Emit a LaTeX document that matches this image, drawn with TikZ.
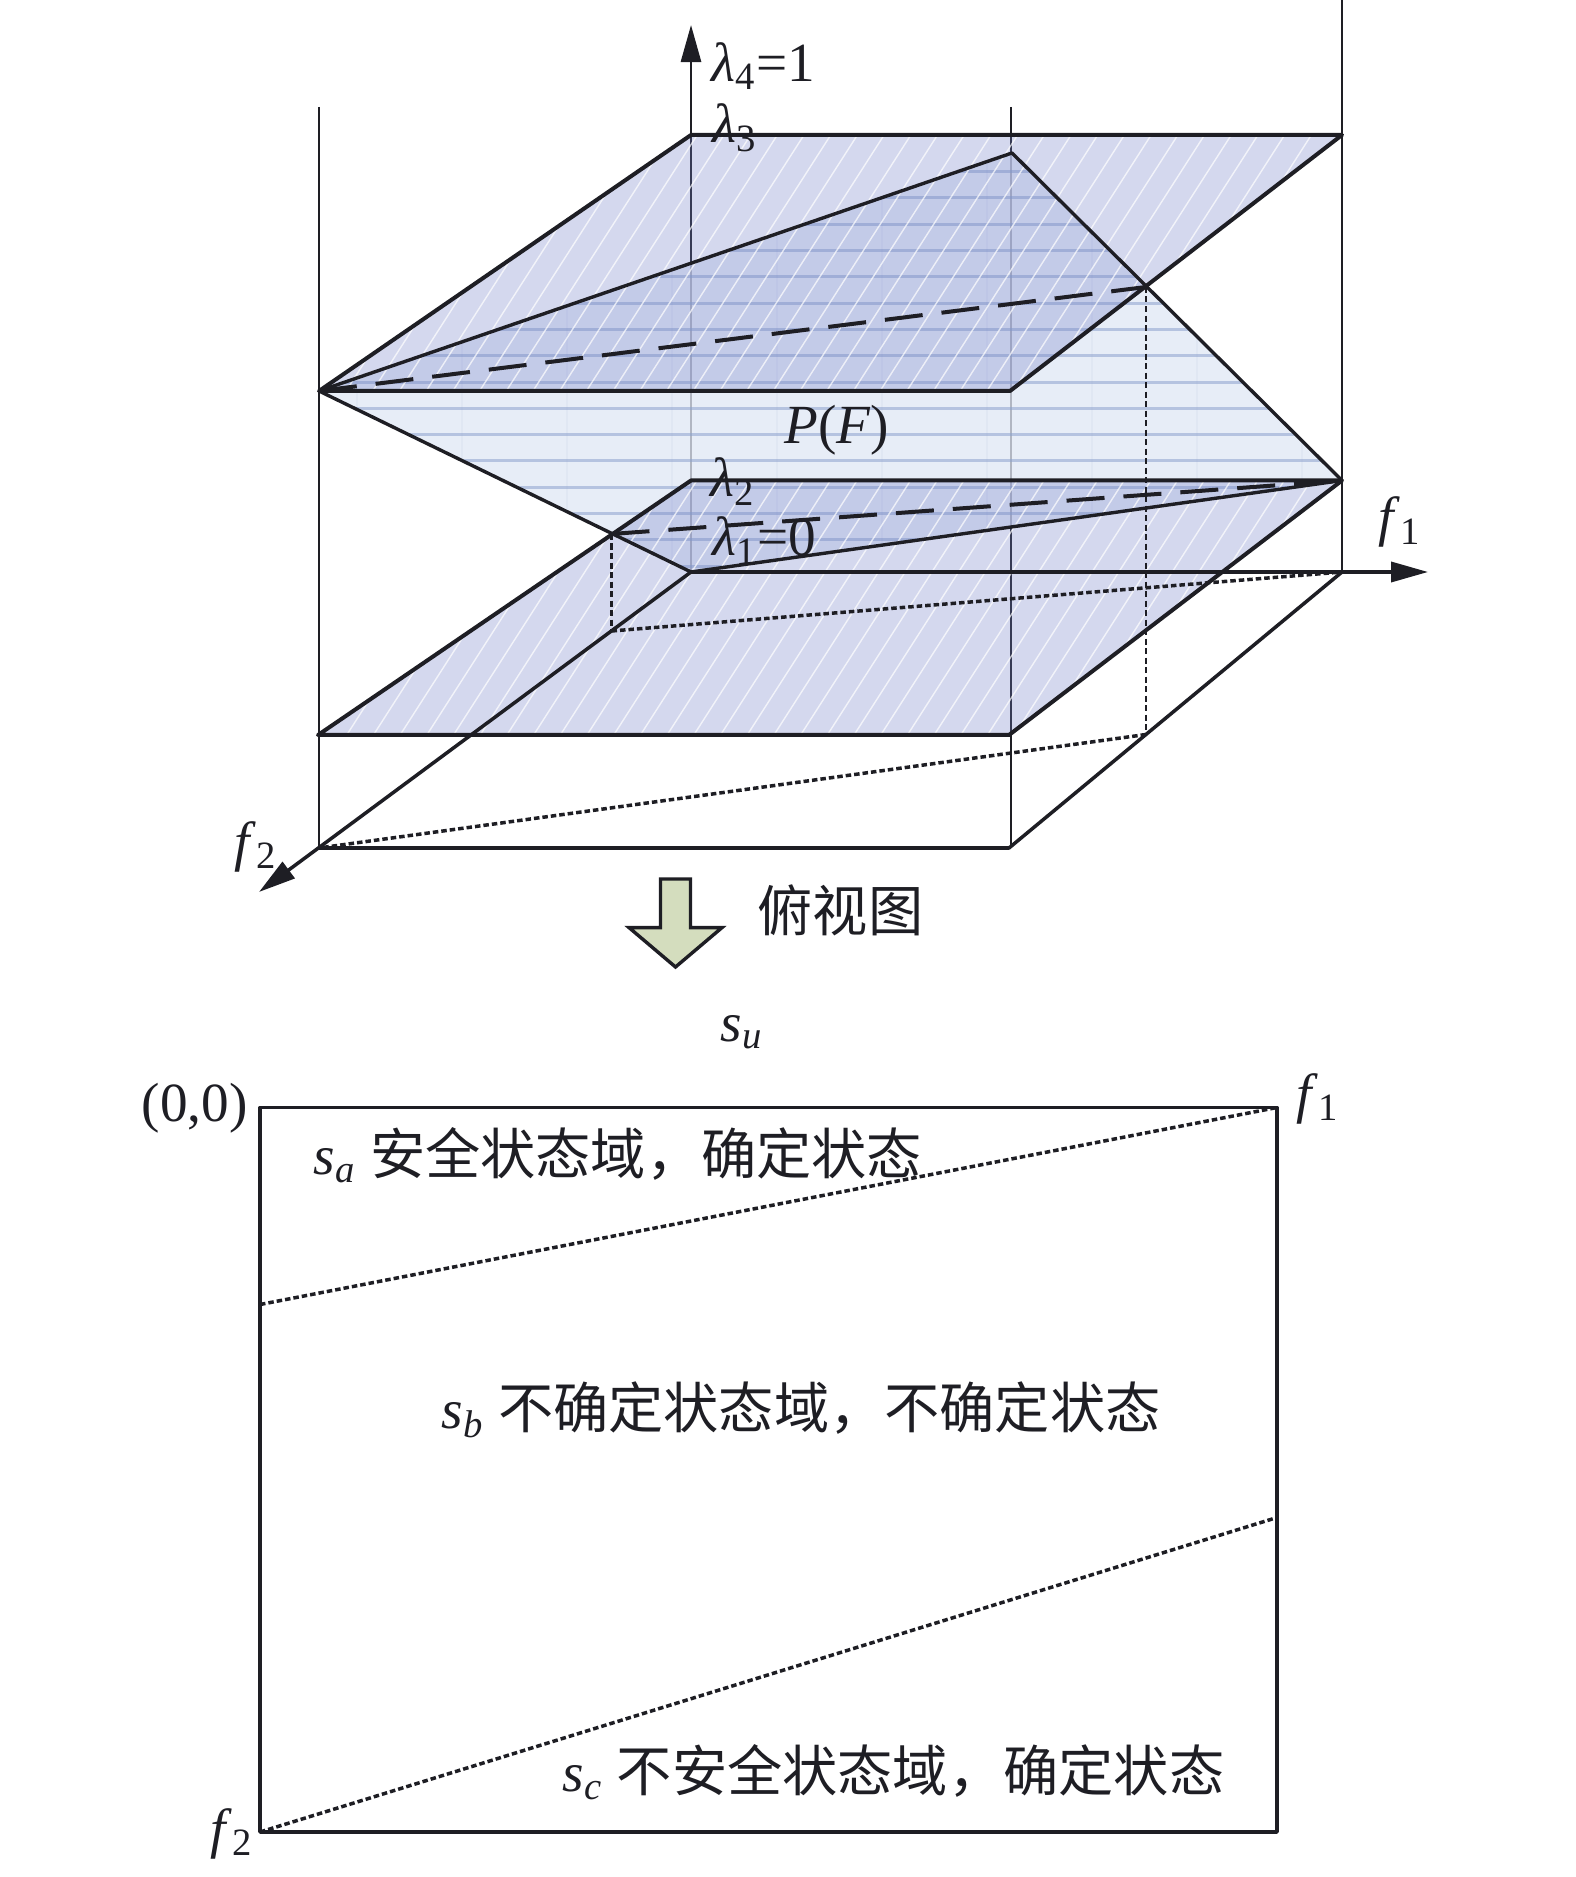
\documentclass[tikz,border=0pt]{standalone}
\usepackage{fontspec}
\setmainfont{Liberation Serif}
\newfontfamily\cjk{Noto Sans CJK SC}
\usetikzlibrary{arrows.meta}
\definecolor{pfill}{RGB}{224,231,244}
\definecolor{pstripe}{RGB}{140,162,206}
\definecolor{plfill}{RGB}{112,125,198}
\definecolor{arrfill}{RGB}{212,221,190}
\definecolor{ink}{RGB}{30,30,36}
\begin{document}
\begin{tikzpicture}[x=0.01cm,y=-0.01cm,
  every node/.style={font=\fontsize{15.7}{19}\selectfont, inner sep=0pt, text=ink},
  thinln/.style={draw=ink, line width=0.022cm},
  edgeln/.style={draw=ink, line width=0.04cm, line join=round},
  dashln/.style={draw=ink, line width=0.04cm, dash pattern=on 0.38cm off 0.19cm},
  dotln/.style={draw=ink, line width=0.035cm, dash pattern=on 0.055cm off 0.03cm},
  vdashln/.style={draw=ink, line width=0.026cm, dash pattern=on 0.06cm off 0.035cm},
  axisarrow/.style={draw=ink, line width=0.035cm, -{Triangle[length=0.37cm,width=0.2cm]}},
]
\useasboundingbox (0,0) rectangle (1575,1877);
% ---------- points of the 3D sketch ----------
\coordinate (A) at (319,391);
\coordinate (B) at (1012,153);
\coordinate (C) at (1146,287);
\coordinate (D) at (1342,480.5);
\coordinate (E) at (611.5,534);
\coordinate (F) at (691,572);
\coordinate (T1) at (691,135);
\coordinate (T2) at (1342,135);
\coordinate (T3) at (1010,391);
\coordinate (L1) at (691,480.5);
\coordinate (L3) at (1009,735);
\coordinate (L4) at (318,735);
\coordinate (G1) at (1342,572);
\coordinate (G2) at (1009,848);
\coordinate (G3) at (319,848);
\coordinate (Cp) at (1146,734.5);
\coordinate (Ep) at (611.5,631);
\coordinate (lamtip) at (691,25);
\coordinate (f1tip) at (1428,572);
\coordinate (f2tip) at (259,892);
\coordinate (V1t) at (319,107);
\coordinate (V2t) at (1011,107);
\coordinate (V2b) at (1011,848);
\coordinate (V3t) at (1342,0);
% ---------- thin verticals (behind fills) ----------
\draw[thinln] (V1t) -- (G3);
\draw[thinln] (V2t) -- (V2b);
\draw[thinln] (V3t) -- (G1);
\draw[axisarrow, line width=0.028cm] (F) -- (lamtip);
% ---------- P(F) body ----------
\begin{scope}
  \clip (A) -- (B) -- (D) -- (F) -- cycle;
  \fill[pfill, opacity=0.76] (A) -- (B) -- (D) -- (F) -- cycle;
  \foreach \k in {0,...,17}
    \draw[pstripe, opacity=0.55, line width=0.03cm] (300,145.4+\k*26.3) -- (1360,145.4+\k*26.3);
  \foreach \k in {0,...,10}
    \draw[pstripe, opacity=0.08, line width=0.02cm] (251.7+\k*105,140) -- (251.7+\k*105,580);
\end{scope}
% ---------- planes ----------
\begin{scope}
  \clip (T1) -- (T2) -- (T3) -- (A) -- cycle;
  \fill[plfill, opacity=0.3] (T1) -- (T2) -- (T3) -- (A) -- cycle;
  \foreach \i in {0,...,50}
    \draw[white, opacity=0.7, line width=0.014cm] (100+\i*26.7,400) -- (270+\i*26.7,135);
\end{scope}
\begin{scope}
  \clip (L1) -- (D) -- (L3) -- (L4) -- cycle;
  \fill[plfill, opacity=0.3] (L1) -- (D) -- (L3) -- (L4) -- cycle;
  \foreach \i in {0,...,50}
    \draw[white, opacity=0.7, line width=0.014cm] (100+\i*26.7,745) -- (270+\i*26.7,480);
\end{scope}
% ---------- outlines ----------
\draw[edgeln] (T1) -- (T2) -- (T3) -- (A) -- cycle;
\draw[edgeln] (L1) -- (D) -- (L3) -- (L4) -- cycle;
\draw[edgeln, line width=0.034cm] (A) -- (B) -- (D);
\draw[edgeln, line width=0.034cm] (A) -- (F) -- (D);
\draw[dashln] (A) -- (C);
\draw[dashln] (E) -- (D);
\draw[vdashln] (C) -- (Cp);
\draw[vdashln] (E) -- (Ep);
\draw[dotln] (Ep) -- (G1);
\draw[dotln] (Cp) -- (G3);
\draw[edgeln, line width=0.035cm] (G3) -- (G2) -- (G1);
\draw[axisarrow] (F) -- (f1tip);
\draw[axisarrow] (F) -- (f2tip);
% ---------- labels of the 3D sketch ----------
\node[anchor=base west] (l4) at (711,82) {\textit{λ}\textsubscript{4}=1};
\node[anchor=base west] (l3) at (712,143) {\textit{λ}\textsubscript{3}};
\node[anchor=base west] (l2) at (710,497) {\textit{λ}\textsubscript{2}};
\node[anchor=base west] (l1) at (712,556) {\textit{λ}\textsubscript{1}=0};
\node[anchor=base] (pf) at (837,444) {\textit{P}(\textit{F})};
\node[anchor=base west] (f1a) at (1378,536) {\textit{f}\textsubscript{1}};
\node[anchor=base west] (f2a) at (234,860) {\textit{f}\textsubscript{2}};
% ---------- block arrow ----------
\draw[draw=ink, line width=0.034cm, fill=arrfill, line join=miter]
  (660.5,879) -- (690.5,879) -- (690.5,927.6) -- (722,927.6) -- (675.5,967)
  -- (629,927.6) -- (660.5,927.6) -- cycle;
\node[anchor=west] (top) at (757,910) {\cjk 俯视图};
% ---------- top view ----------
\coordinate (R1) at (260,1107.5);
\coordinate (R2) at (1277,1107.5);
\coordinate (R3) at (1277,1832);
\coordinate (R4) at (260,1832);
\coordinate (Q1) at (260,1304.5);
\coordinate (Q2) at (1277,1517.5);
\draw[edgeln, line width=0.036cm] (R1) -- (R2) -- (R3) -- (R4) -- cycle;
\draw[dotln] (Q1) -- (R2);
\draw[dotln] (R4) -- (Q2);
\node[anchor=base west] (su) at (720,1041) {\textit{s}\textsubscript{\textit{u}}};
\node[anchor=base west] (zero) at (141,1121) {(0,0)};
\node[anchor=base west] (f1b) at (1296,1112) {\textit{f}\textsubscript{1}};
\node[anchor=base west] (f2b) at (210,1847) {\textit{f}\textsubscript{2}};
\node[anchor=west] (sa) at (313,1155) {\textit{s}\textsubscript{\textit{a}} {\cjk 安全状态域，确定状态}};
\node[anchor=west] (sb) at (441,1410) {\textit{s}\textsubscript{\textit{b}} {\cjk 不确定状态域，不确定状态}};
\node[anchor=west] (sc) at (562,1772) {\textit{s}\textsubscript{\textit{c}} {\cjk 不安全状态域，确定状态}};
\end{tikzpicture}
\end{document}
